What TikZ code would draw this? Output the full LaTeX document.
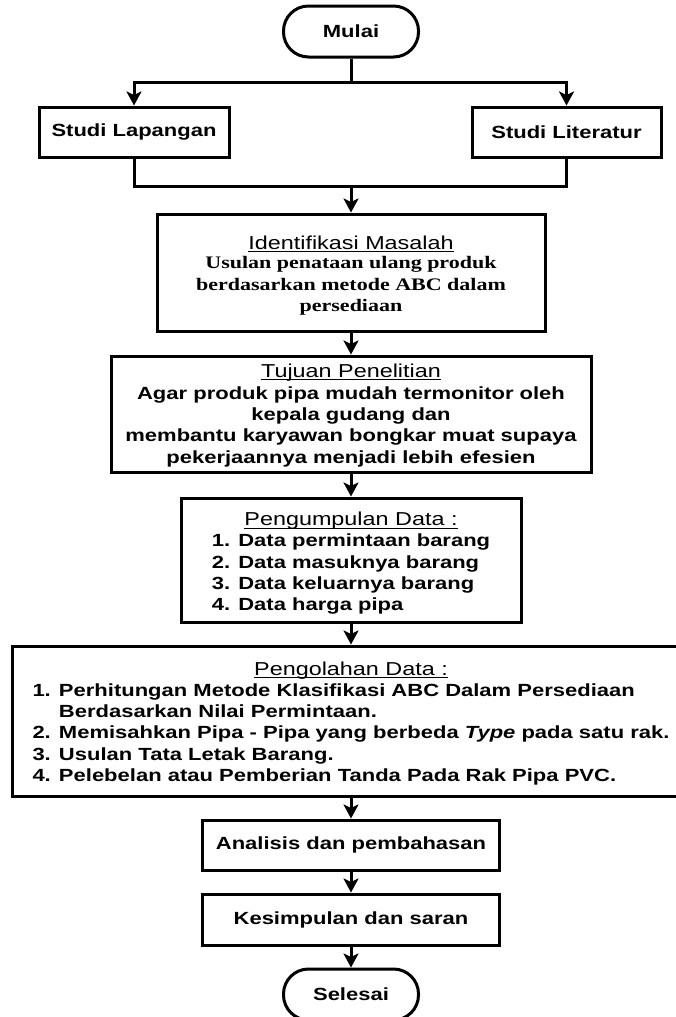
\documentclass[tikz,border=0pt]{standalone}
\usepackage{fontspec}
\setmainfont{Liberation Sans}[FakeStretch=1.25]
\newfontfamily\serifb{Liberation Serif}[FakeStretch=1.25]
\usetikzlibrary{arrows.meta}
\newcommand\titleul[1]{{\fontsize{18.7}{21.3}\selectfont\mdseries\setbox0\hbox{#1}\rlap{\copy0}\rule[-3pt]{\wd0}{1.4pt}}}
\begin{document}
\begin{tikzpicture}[x=1pt,y=-1pt,
  box/.style={draw, line width=3pt, rectangle, inner sep=0pt, align=center,
              font=\bfseries\fontsize{17.6}{21.3}\selectfont},
  term/.style={box, rounded corners=25pt},
  arr/.style={line width=3pt, -{Stealth[length=14pt,width=15pt,inset=3.5pt]}},
  ln/.style={line width=3pt}]
\useasboundingbox (0,0) rectangle (675,1017);

\node[term, minimum width=135pt, minimum height=51pt] (mulai) at (351,31.5) {Mulai};
\node[box, minimum width=190pt, minimum height=50pt] (lap) at (134,132) {Studi Lapangan};
\node[box, minimum width=189pt, minimum height=50pt] (lit) at (566.5,132) {Studi Literatur};

\node[box, minimum width=388pt, minimum height=117pt] (ident) at (351,272.5)
  {\rule{0pt}{22pt}\titleul{Identifikasi Masalah}\\[1pt]
   {\serifb\bfseries\fontsize{17.6}{21.3}\selectfont
   \begin{tabular}{@{}c@{}}Usulan penataan ulang produk\\ berdasarkan metode ABC dalam\\ persediaan\end{tabular}}};

\node[box, minimum width=480pt, minimum height=116pt] (tujuan) at (351,414)
  {\rule{0pt}{16pt}\titleul{Tujuan Penelitian}\\[1pt]
   Agar produk pipa mudah termonitor oleh\\
   kepala gudang dan\\
   membantu karyawan bongkar muat supaya\\
   pekerjaannya menjadi lebih efesien};

\node[box, minimum width=340pt, minimum height=124pt] (kumpul) at (351,560)
  {\rule{0pt}{23pt}\titleul{Pengumpulan Data :}\\[1pt]
   \begin{tabular}{@{}l@{}}1. Data permintaan barang\\ 2. Data masuknya barang\\ 3. Data keluarnya barang\\ 4. Data harga pipa\end{tabular}};

\node[box, minimum width=678pt, minimum height=150pt] (olah) at (351,721)
  {\rule{0pt}{21pt}\titleul{Pengolahan Data :}\\[1pt]
   \begin{tabular}{@{}l@{}}1. Perhitungan Metode Klasifikasi ABC Dalam Persediaan\\
   \phantom{1. }Berdasarkan Nilai Permintaan.\\
   2. Memisahkan Pipa - Pipa yang berbeda \textit{Type} pada satu rak.\\
   3. Usulan Tata Letak Barang.\\
   4. Pelebelan atau Pemberian Tanda Pada Rak Pipa PVC.\end{tabular}};

\node[box, minimum width=297pt, minimum height=50pt] (anal) at (351,845) {Analisis dan pembahasan};
\node[box, minimum width=297pt, minimum height=51pt] (kesim) at (351,919.5) {Kesimpulan dan saran};
\node[term, minimum width=135pt, minimum height=51pt] (selesai) at (351,994.5) {Selesai};

\coordinate (fork) at (351,82);
\coordinate (join) at (351,186);
\draw[ln] (mulai.south) -- (fork);
\draw[arr] (fork) -| (lap.north);
\draw[arr] (fork) -| (lit.north);
\draw[ln] (lap.south) |- (join);
\draw[ln] (lit.south) |- (join);
\draw[arr] (join) -- (ident.north);
\draw[arr] (ident.south) -- (tujuan.north);
\draw[arr] (tujuan.south) -- (kumpul.north);
\draw[arr] (kumpul.south) -- (olah.north);
\draw[arr] (olah.south) -- (anal.north);
\draw[arr] (anal.south) -- (kesim.north);
\draw[arr] (kesim.south) -- (selesai.north);
\end{tikzpicture}
\end{document}
